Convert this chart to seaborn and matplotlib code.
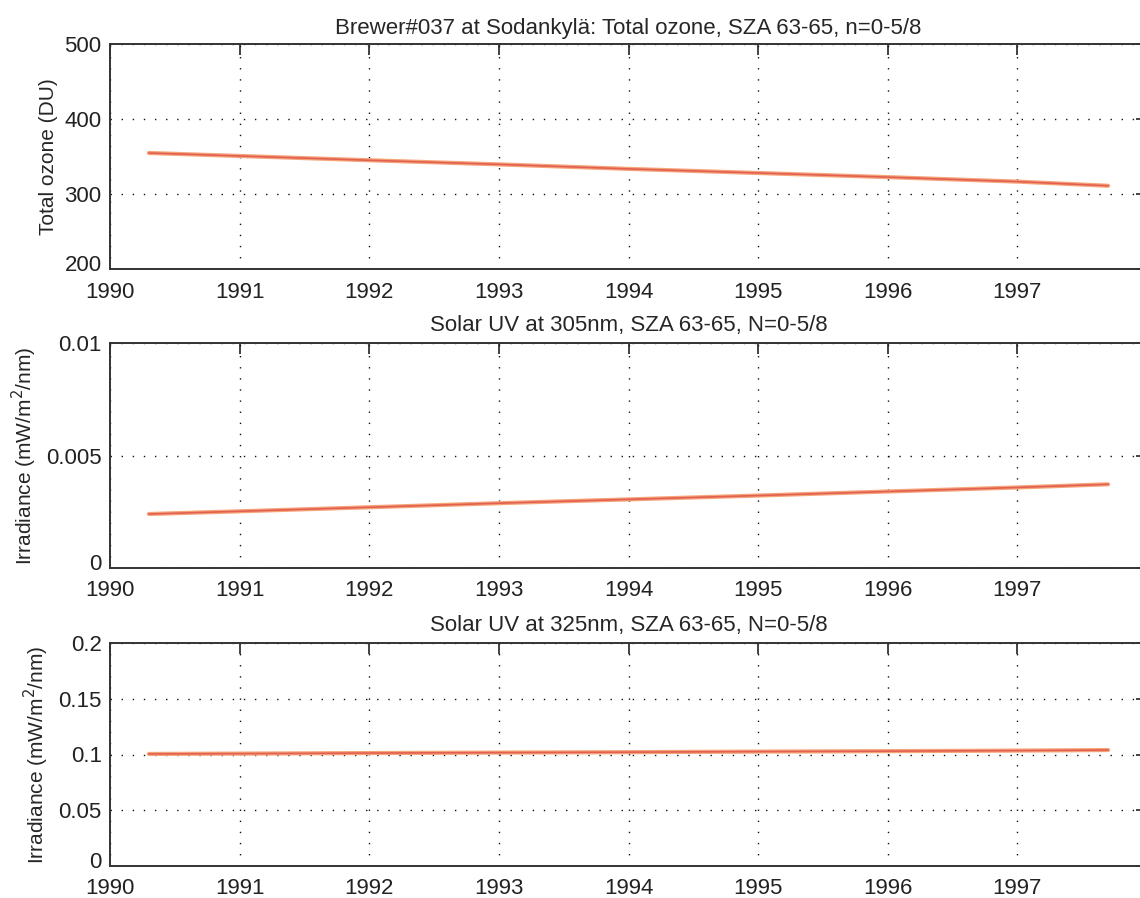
import matplotlib
matplotlib.use("Agg")
import matplotlib.pyplot as plt
import matplotlib.transforms as mtransforms
import seaborn as sns
import pandas as pd
import numpy as np

sns.set_style("white")
plt.rcParams['font.family'] = ['Liberation Sans', 'DejaVu Sans']

# ---- data ----
years = [1990.3, 1991.0, 1992.0, 1993.0, 1994.0, 1995.0, 1996.0, 1997.0, 1997.7]
ozone = [354.7, 350.7, 345.0, 339.5, 333.5, 328.0, 322.5, 316.5, 311.0]
uv305 = [0.00240, 0.00252, 0.00270, 0.00288, 0.00305, 0.00322, 0.00340, 0.00358, 0.00372]
uv325 = [0.1005, 0.1008, 0.1013, 0.1017, 0.1021, 0.1026, 0.1030, 0.1035, 0.1040]

xticks = [1990, 1991, 1992, 1993, 1994, 1995, 1996, 1997]
titles = ["Brewer#037 at Sodankylä: Total ozone, SZA 63-65, n=0-5/8",
          "Solar UV at 305nm, SZA 63-65, N=0-5/8",
          "Solar UV at 325nm, SZA 63-65, N=0-5/8"]
ylabels = ["Total ozone (DU)",
           "Irradiance (mW/m$^2$/nm)",
           "Irradiance (mW/m$^2$/nm)"]
yticks = [[200, 300, 400, 500],
          [0, 0.005, 0.01],
          [0, 0.05, 0.1, 0.15, 0.2]]
yticklabels = [["200", "300", "400", "500"],
               ["0", "0.005", "0.01"],
               ["0", "0.05", "0.1", "0.15", "0.2"]]
series = [ozone, uv305, uv325]

fig = plt.figure(figsize=(11.4, 8.98), dpi=100)
W, H = 1140, 898
left_px, right_px = 110, 1147
panels = [(44, 269), (343, 568), (643, 866)]
title_pads = [7, 9, 9]

for i, (top, bot) in enumerate(panels):
    ax = fig.add_axes([left_px / W, 1 - bot / H, (right_px - left_px) / W, (bot - top) / H])
    df = pd.DataFrame({"year": years, "value": series[i]})
    sns.lineplot(data=df, x="year", y="value", ax=ax, color="#f5a478", lw=3.0, zorder=3)
    sns.lineplot(data=df, x="year", y="value", ax=ax, color="#d01c2c", lw=1.2, alpha=0.5, zorder=4)
    ax.set_xlim(1990, 1998)
    ax.set_ylim(yticks[i][0], yticks[i][-1])
    ax.set_xticks(xticks)
    ax.set_xticklabels([str(x) for x in xticks])
    ax.set_yticks(yticks[i])
    ax.set_yticklabels(yticklabels[i])
    ax.grid(True, color="#111111", linestyle=(0, (1, 7)), linewidth=1.0)
    ax.tick_params(axis="both", direction="in", length=8, width=1.2, top=True, right=True,
                   labelsize=16, colors="#222222")
    ax.tick_params(axis="x", pad=9)
    ax.tick_params(axis="y", pad=6)
    # lift the lowest y tick label a little, as in the reference
    lab0 = ax.get_yticklabels()[0]
    lab0.set_transform(lab0.get_transform() +
                       mtransforms.ScaledTranslation(0, 4 / 72, fig.dpi_scale_trans))
    for s in ax.spines.values():
        s.set_color("#333333")
        s.set_linewidth(1.4)
    ax.set_xlabel("")
    ax.set_ylabel(ylabels[i], fontsize=15, labelpad=5)
    ax.set_title(titles[i], fontsize=16, pad=title_pads[i])

fig.savefig("out.png", dpi=100)
